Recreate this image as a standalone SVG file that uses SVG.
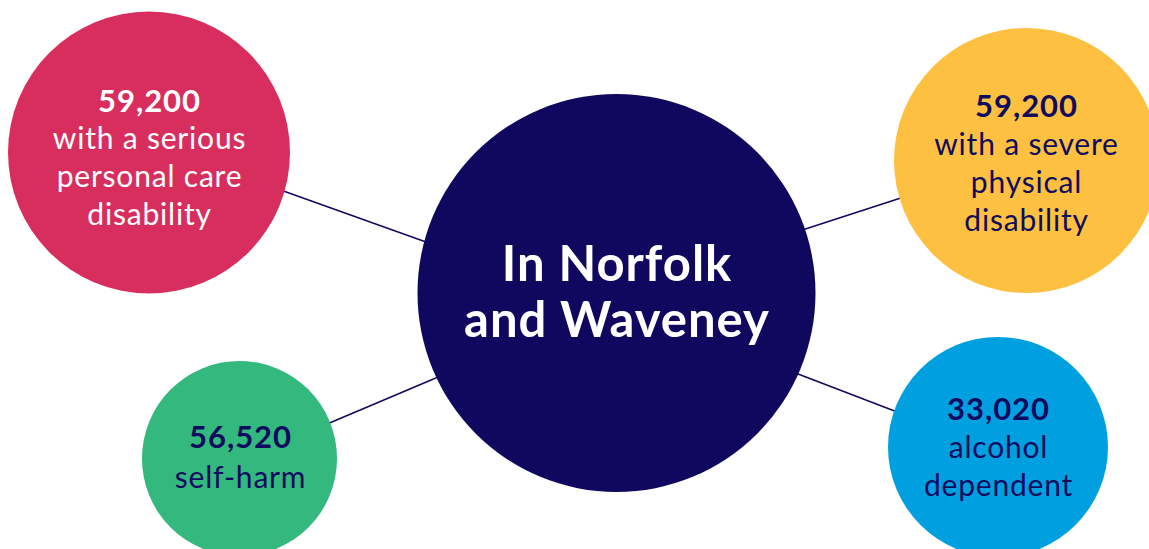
<svg xmlns="http://www.w3.org/2000/svg" width="1149" height="549" viewBox="0 0 1149 549">
<style>
.conn{stroke:#10085E;stroke-width:1.5;fill:none}
.num{font-family:Lato,"Open Sans",sans-serif;font-weight:700;font-size:31px;letter-spacing:1px;text-anchor:middle}
.lbl{font-family:Lato,"Open Sans",sans-serif;font-weight:400;font-size:30px;letter-spacing:0.8px;text-anchor:middle}
.title{font-family:Lato,"Open Sans",sans-serif;font-weight:700;font-size:49px;letter-spacing:1px;text-anchor:middle;fill:#fff}
.w{fill:#fff}
.n{fill:#100B5E}
</style>
<rect width="1149" height="549" fill="#fff"/>
<g id="connectors">
<line class="conn" x1="275" y1="188" x2="440" y2="247"/>
<line class="conn" x1="790" y1="234" x2="910" y2="195"/>
<line class="conn" x1="320" y1="427" x2="450" y2="372"/>
<line class="conn" x1="785" y1="369" x2="905" y2="415"/>
</g>
<g id="center">
<circle cx="616.5" cy="293" r="199" fill="#10085E"/>
<text class="title" x="617" y="281">In Norfolk</text>
<text class="title" x="617" y="337">and Waveney</text>
</g>
<g id="personal-care">
<circle cx="149" cy="152.5" r="141" fill="#D82E5E"/>
<text class="num w" x="149.5" y="112">59,200</text>
<text class="lbl w" x="149.5" y="149">with a serious</text>
<text class="lbl w" x="149.5" y="187">personal care</text>
<text class="lbl w" x="149.5" y="225">disability</text>
</g>
<g id="physical">
<circle cx="1026.5" cy="160.5" r="132.5" fill="#FDC041"/>
<text class="num n" x="1026.5" y="117">59,200</text>
<text class="lbl n" x="1026.5" y="155">with a severe</text>
<text class="lbl n" x="1026.5" y="193">physical</text>
<text class="lbl n" x="1026.5" y="231">disability</text>
</g>
<g id="self-harm">
<circle cx="239.5" cy="458.5" r="97.5" fill="#33B87D"/>
<text class="num n" x="240.5" y="448">56,520</text>
<text class="lbl n" x="240.5" y="488">self-harm</text>
</g>
<g id="alcohol">
<circle cx="998" cy="447" r="110" fill="#00A0E0"/>
<text class="num n" x="998.5" y="420">33,020</text>
<text class="lbl n" x="998.5" y="458">alcohol</text>
<text class="lbl n" x="998.5" y="496">dependent</text>
</g>
</svg>
